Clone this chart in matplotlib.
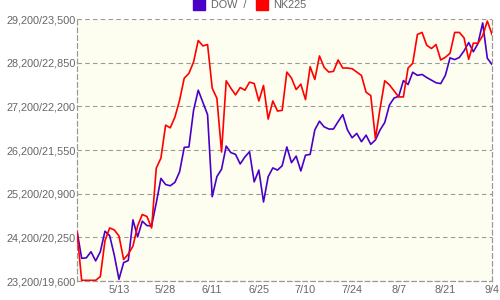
import matplotlib
matplotlib.use("Agg")
import matplotlib.pyplot as plt
from matplotlib.patches import Patch

# x tick labels (every 10th trading day)
tick_idx = [9, 19, 29, 39, 49, 59, 69, 79, 89]
tick_labels = ["5/13", "5/28", "6/11", "6/25", "7/10", "7/24", "8/7", "8/21", "9/4"]

dow = [24350, 23720, 23730, 23870, 23660, 23870, 24340, 24240, 23790, 23240,
       23620, 23670, 24600, 24210, 24570, 24470, 24460, 24990, 25550, 25410,
       25380, 25460, 25700, 26260, 26270, 27110, 27570, 27290, 27010, 25130,
       25590, 25760, 26290, 26140, 26100, 25880, 26040, 26160, 25470, 25740,
       25010, 25590, 25790, 25740, 25840, 26270, 25910, 26060, 25720, 26080,
       26100, 26660, 26860, 26730, 26680, 26680, 26850, 27010, 26660, 26480,
       26580, 26390, 26540, 26330, 26430, 26660, 26830, 27230, 27390, 27430,
       27790, 27700, 27980, 27910, 27930, 27860, 27800, 27740, 27720, 27910,
       28310, 28270, 28320, 28470, 28660, 28450, 28640, 29110, 28300, 28160]

nk225 = [20330, 19610, 19610, 19610, 19610, 19665, 20200, 20390, 20360, 20270,
         19920, 20000, 20120, 20420, 20590, 20560, 20390, 21280, 21430, 21920,
         21880, 22040, 22290, 22620, 22690, 22860, 23180, 23100, 23120, 22470,
         22320, 21520, 22580, 22470, 22370, 22480, 22440, 22560, 22540, 22280,
         22510, 22010, 22280, 22130, 22140, 22710, 22620, 22450, 22530, 22300,
         22790, 22600, 22950, 22780, 22710, 22720, 22890, 22770, 22770, 22760,
         22710, 22660, 22410, 22360, 21720, 22170, 22580, 22520, 22430, 22340,
         22340, 22770, 22840, 23270, 23300, 23110, 23060, 23120, 22890, 22930,
         22990, 23300, 23300, 23220, 22900, 23140, 23140, 23250, 23470, 23270]

dow_ticks = [23200, 24200, 25200, 26200, 27200, 28200, 29200]
nk_ticks = [19600, 20250, 20900, 21550, 22200, 22850, 23500]

blue = "#4b00c8"
red = "#ff0000"
grey = "#666666"

plt.rcParams["font.family"] = ["Liberation Sans", "DejaVu Sans"]
plt.rcParams["font.size"] = 7.8

fig = plt.figure(figsize=(5, 3), dpi=100)
ax = fig.add_axes([77 / 500, 19 / 300, 415 / 500, 262 / 300])
ax.set_facecolor("#fefef0")
ax2 = ax.twinx()

x = list(range(len(dow)))
ax.plot(x, dow, color=blue, lw=1.2, zorder=3)
ax2.plot(x, nk225, color=red, lw=1.2, zorder=3)

ax.set_xlim(0, len(dow) - 1)
ax.set_ylim(dow_ticks[0], dow_ticks[-1])
ax2.set_ylim(nk_ticks[0], nk_ticks[-1])

ax.set_yticks(dow_ticks)
ax.set_yticklabels([f"{d:,}/{n:,}" for d, n in zip(dow_ticks, nk_ticks)])
ax2.set_yticks([])
ax.set_xticks(tick_idx)
ax.set_xticklabels(tick_labels)
ax.tick_params(length=0, colors=grey, labelsize=7.8, pad=3)
ax.tick_params(axis="y", pad=1)

ax.grid(axis="y", color="#999999", ls=(0, (4, 3)), lw=0.8)
for a in (ax, ax2):
    a.spines["top"].set_visible(False)
    for s in ("left", "right", "bottom"):
        a.spines[s].set_color("#999999")
        a.spines[s].set_linestyle((0, (4, 3)))
        a.spines[s].set_linewidth(0.8)

handles = [Patch(color=blue), Patch(color=red)]
fig.legend(handles, ["DOW  /", "NK225"], loc="upper center", ncol=2,
           bbox_to_anchor=(0.5, 1.035), frameon=False, handlelength=1.1,
           handleheight=1.1, handletextpad=0.5, columnspacing=0.9,
           labelcolor=grey, fontsize=7.8)

fig.savefig("out.png", dpi=100, facecolor="white")
